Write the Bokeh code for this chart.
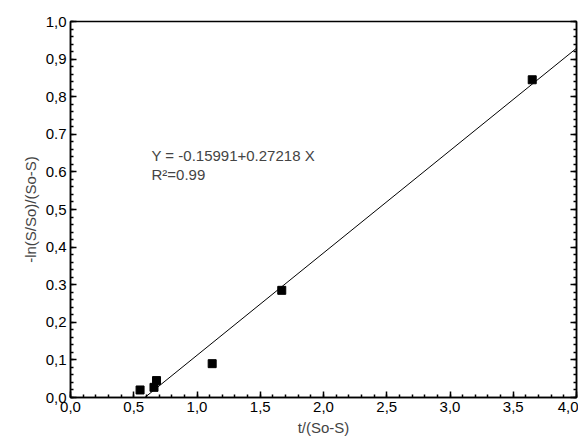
from bokeh.embed import file_html
from bokeh.resources import INLINE
from bokeh.plotting import figure
from bokeh.models import LinearAxis, Label, Range1d, SingleIntervalTicker
import numpy as np

x_pts = [0.55, 0.66, 0.68, 1.12, 1.67, 3.65]
y_pts = [0.02, 0.027, 0.045, 0.09, 0.285, 0.845]
intercept = -0.15991
slope = 0.27218
x_line = [-intercept / slope, 4.0]
y_line = [intercept + slope * v for v in x_line]

FONT = "Liberation Sans"

p = figure(width=578, height=438, output_backend="svg", toolbar_location=None,
           x_range=Range1d(0, 4), y_range=Range1d(0, 1),
           min_border_left=70, min_border_right=2, min_border_top=21, min_border_bottom=40)
p.grid.visible = False
p.outline_line_color = "black"
p.outline_line_width = 1.5

p.line(x_line, y_line, line_color="black", line_width=1)
p.scatter(x_pts, y_pts, marker="square", size=8, color="black")

p.xaxis.ticker = SingleIntervalTicker(interval=0.5, num_minor_ticks=5)
p.yaxis.ticker = SingleIntervalTicker(interval=0.1, num_minor_ticks=5)
p.xaxis.major_label_overrides = {float(v): f"{v:.1f}".replace(".", ",") for v in np.arange(0, 4.01, 0.5)}
p.yaxis.major_label_overrides = {round(float(v), 1): f"{v:.1f}".replace(".", ",") for v in np.arange(0, 1.01, 0.1)}
p.xaxis.axis_label = "t/(So-S)"
p.yaxis.axis_label = "-ln(S/So)/(So-S)"

right = LinearAxis(ticker=SingleIntervalTicker(interval=0.1, num_minor_ticks=5))
p.add_layout(right, "right")

for ax in p.axis:
    ax.axis_line_width = 1.5
    ax.major_tick_in = 6
    ax.major_tick_out = 0
    ax.minor_tick_in = 3
    ax.minor_tick_out = 0
    ax.major_tick_line_width = 1.5
    ax.minor_tick_line_width = 1.5
    ax.major_label_text_font = FONT
    ax.major_label_text_font_size = "15px"
    ax.major_label_text_color = "black"
    ax.major_label_standoff = 4
    ax.axis_label_text_font = FONT
    ax.axis_label_text_font_size = "15px"
    ax.axis_label_text_font_style = "normal"
    ax.axis_label_standoff = 4
right.major_label_text_font_size = "2px"
right.major_label_text_alpha = 0
right.major_label_standoff = 0

p.add_layout(Label(x=0.64, y=0.665, text="Y = -0.15991+0.27218 X", text_font=FONT,
                   text_font_size="15px", text_baseline="top"))
p.add_layout(Label(x=0.64, y=0.615, text="R²=0.99", text_font=FONT,
                   text_font_size="15px", text_baseline="top"))

open("out.html", "w").write(file_html(p, INLINE))
